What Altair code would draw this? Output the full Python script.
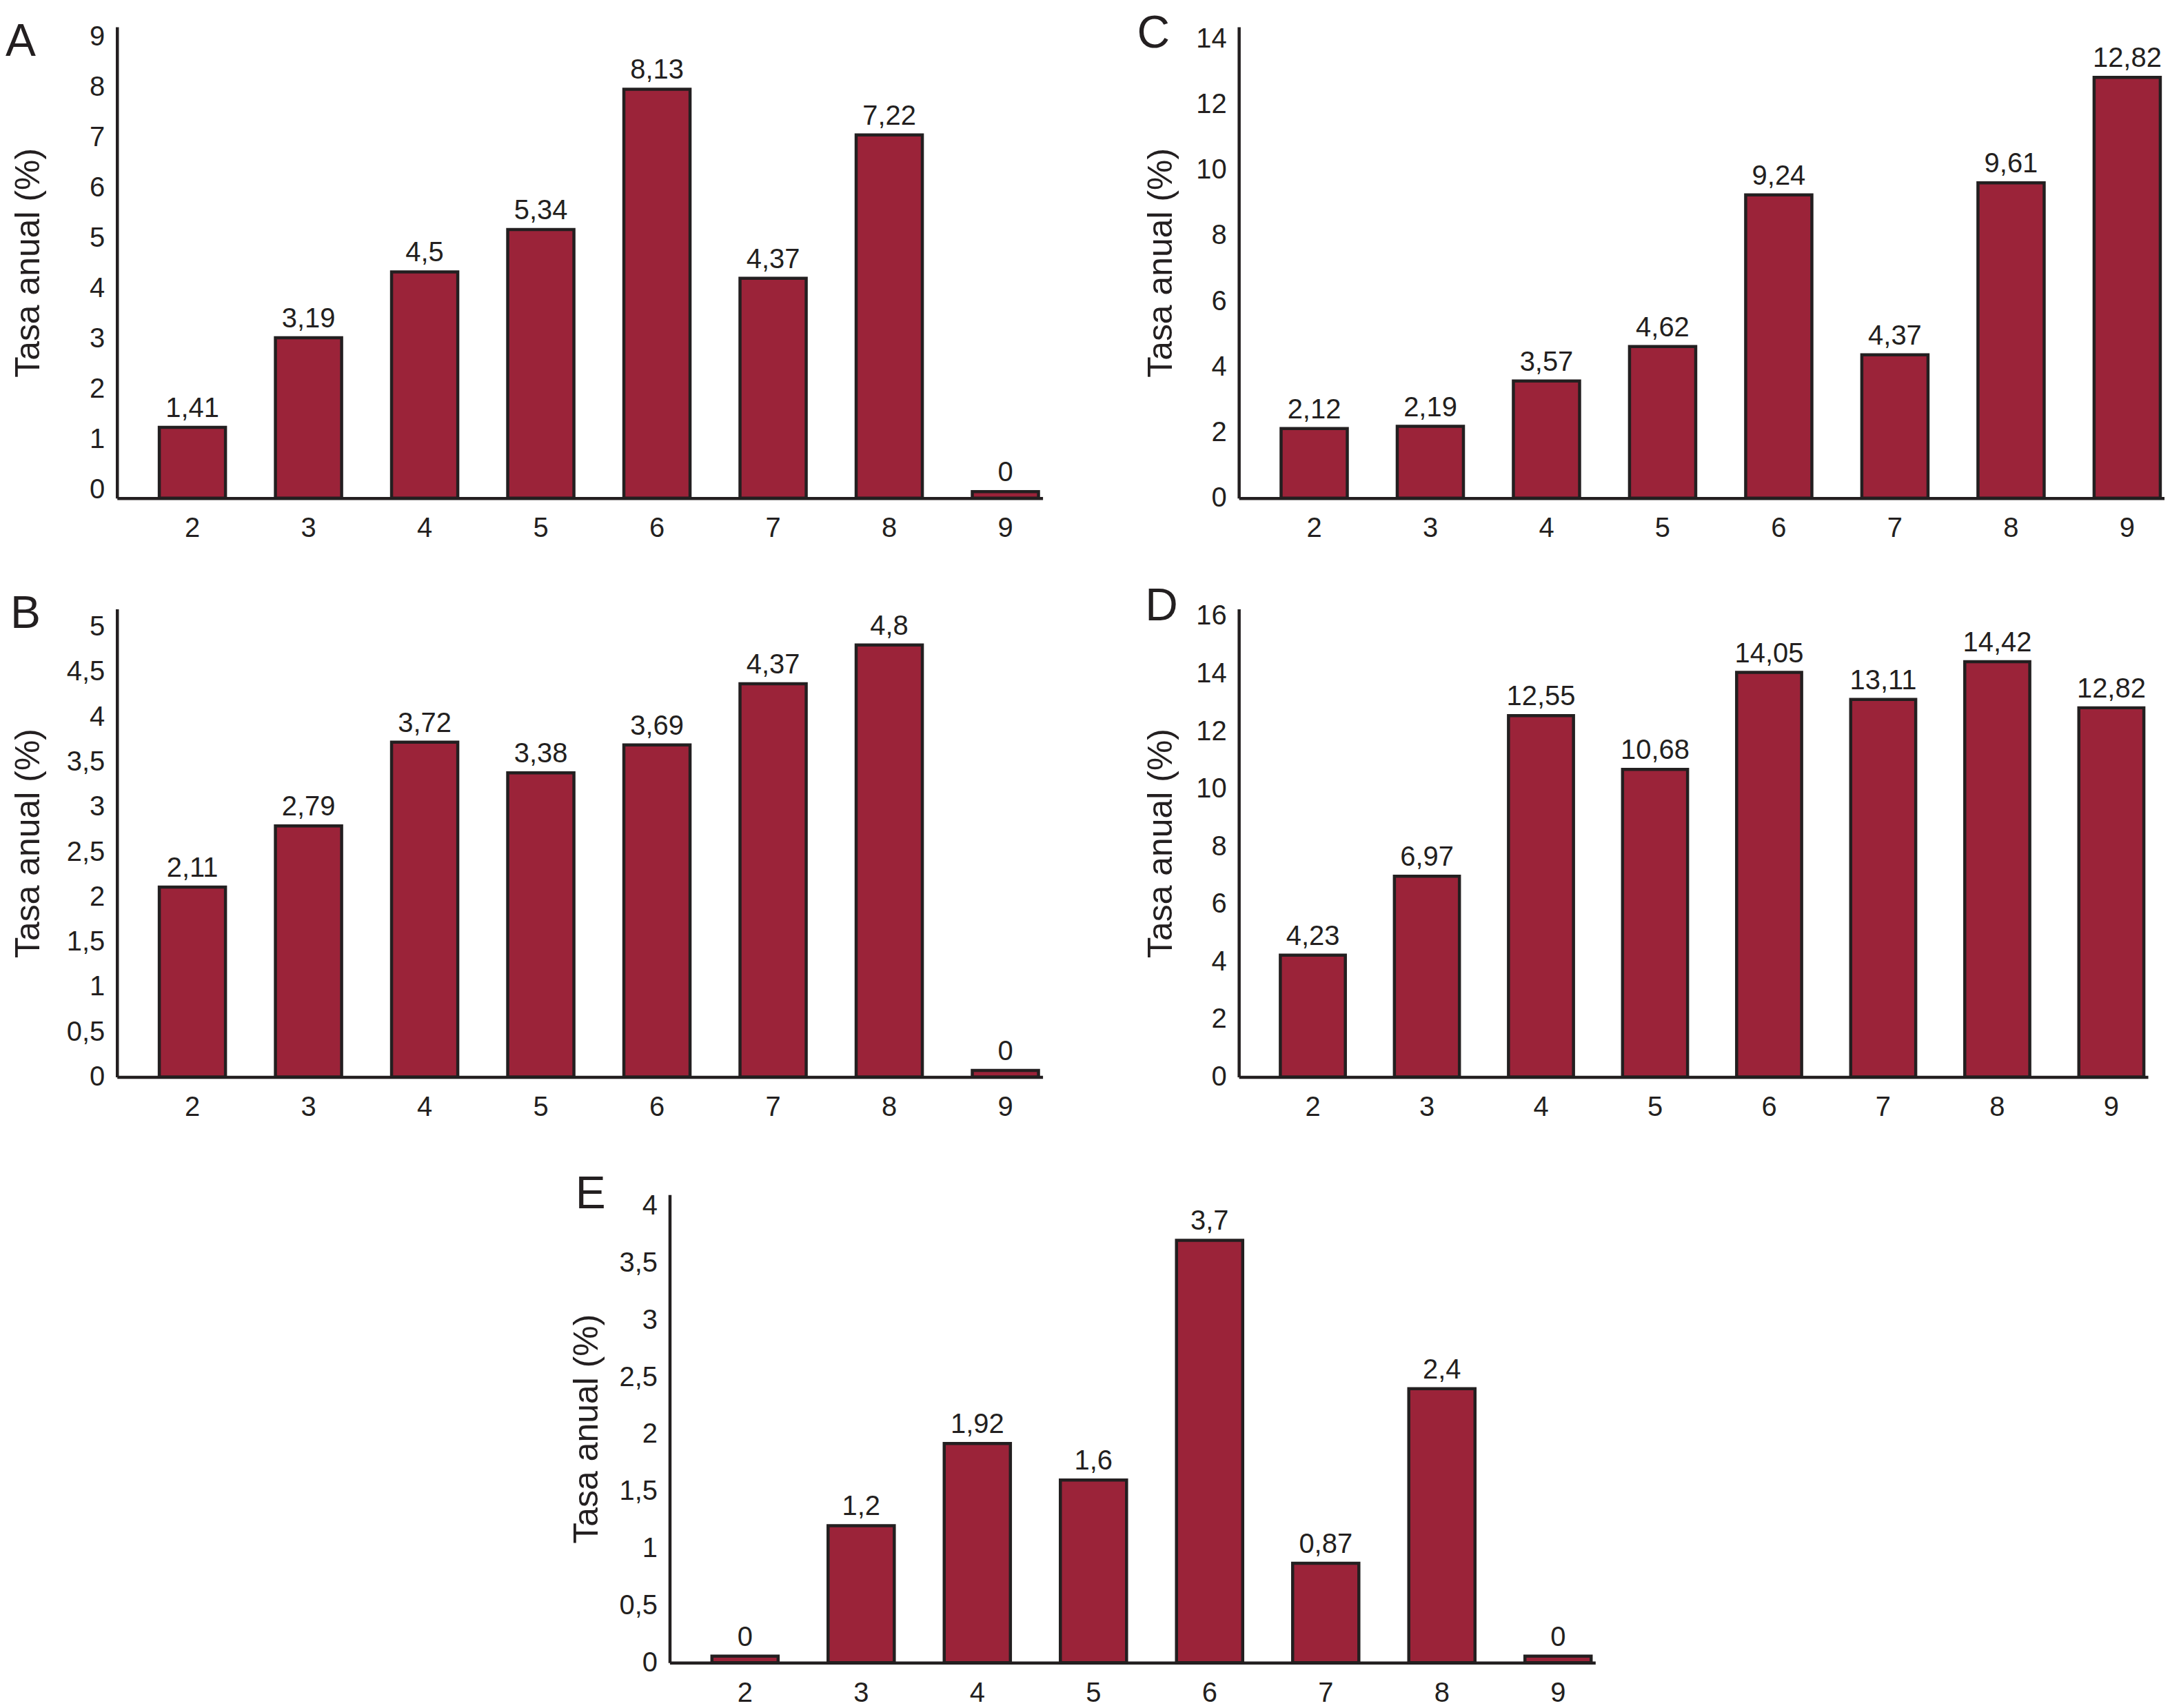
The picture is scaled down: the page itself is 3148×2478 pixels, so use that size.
import altair as alt
import pandas as pd

grupos = [2, 3, 4, 5, 6, 7, 8, 9]

tasa_a = [1.41, 3.19, 4.5, 5.34, 8.13, 4.37, 7.22, 0]
tasa_b = [2.11, 2.79, 3.72, 3.38, 3.69, 4.37, 4.8, 0]
tasa_c = [2.12, 2.19, 3.57, 4.62, 9.24, 4.37, 9.61, 12.82]
tasa_d = [4.23, 6.97, 12.55, 10.68, 14.05, 13.11, 14.42, 12.82]
tasa_e = [0, 1.2, 1.92, 1.6, 3.7, 0.87, 2.4, 0]

ticks_a = [0, 1, 2, 3, 4, 5, 6, 7, 8, 9]
ticks_b = [0, 0.5, 1, 1.5, 2, 2.5, 3, 3.5, 4, 4.5, 5]
ticks_c = [0, 2, 4, 6, 8, 10, 12, 14]
ticks_d = [0, 2, 4, 6, 8, 10, 12, 14, 16]
ticks_e = [0, 0.5, 1, 1.5, 2, 2.5, 3, 3.5, 4]

FILL = "#9b2339"
INK = "#231f20"
FONT = "Liberation Sans"


def panel(letra, valores, ticks, top, w, h, title_x, letra_dx, letra_dy, label_off=0):
    df = pd.DataFrame({"grupo": grupos, "tasa": valores})
    base = alt.Chart(df).transform_calculate(
        alto=f"max(datum.tasa, {top * 0.014})",
        etiqueta="replace(toString(datum.tasa), '.', ',')",
    )
    x = alt.X("grupo:O", title=None,
              scale=alt.Scale(paddingInner=0.43, paddingOuter=0.2, align=0.91),
              axis=alt.Axis(labelAngle=0, labelPadding=24))
    y = alt.Y("alto:Q", title="Tasa anual (%)",
              scale=alt.Scale(domain=[0, top], nice=False),
              axis=alt.Axis(values=ticks, labelOffset=label_off, labelPadding=18,
                            titleX=title_x, titleBaseline="middle",
                            labelExpr="replace(toString(datum.value), '.', ',')"))
    bars = base.mark_bar(fill=FILL, stroke=INK, strokeWidth=4.5).encode(x=x, y=y)
    text = base.mark_text(baseline="bottom", dy=-7, fontSize=40, font=FONT, color=INK).encode(
        x=alt.X("grupo:O"), y=alt.Y("alto:Q"), text="etiqueta:N")
    return alt.layer(bars, text).properties(
        width=w, height=h,
        title=alt.TitleParams(letra, anchor="start", frame="group", fontSize=66,
                              fontWeight="normal", font=FONT, color=INK,
                              dx=letra_dx, dy=letra_dy),
    )


pa = panel("A", tasa_a, ticks_a, 9.37, 1345, 685, -128, -162, 65, label_off=-12)
pb = panel("B", tasa_b, ticks_b, 5.2, 1345, 680, -128, -155, 45)
pc = panel("C", tasa_c, ticks_c, 14.36, 1345, 685, -113, -148, 51)
pd_ = panel("D", tasa_d, ticks_d, 16.25, 1321, 680, -113, -136, 44)
pe = panel("E", tasa_e, ticks_e, 4.1, 1345, 680, -120, -137, 41)

fila1 = alt.hconcat(pa, pc, spacing=285, bounds="flush")
fila2 = alt.hconcat(pb, pd_, spacing=285, bounds="flush")
abajo = alt.vconcat(fila2, pe, spacing=73, center=True)

chart = alt.vconcat(fila1, abajo, spacing=60).properties(
    padding={"top": 6, "left": 0, "right": 0, "bottom": 0}
).configure_view(strokeWidth=0).configure_axis(
    grid=False, ticks=False, domainColor=INK, domainWidth=4.5,
    labelFont=FONT, labelFontSize=40, labelColor=INK,
    titleFont=FONT, titleFontSize=50, titleFontWeight="normal", titleColor=INK,
).configure_title(offset=4)

chart.save("out.html", embed_options={"renderer": "svg", "actions": False})
